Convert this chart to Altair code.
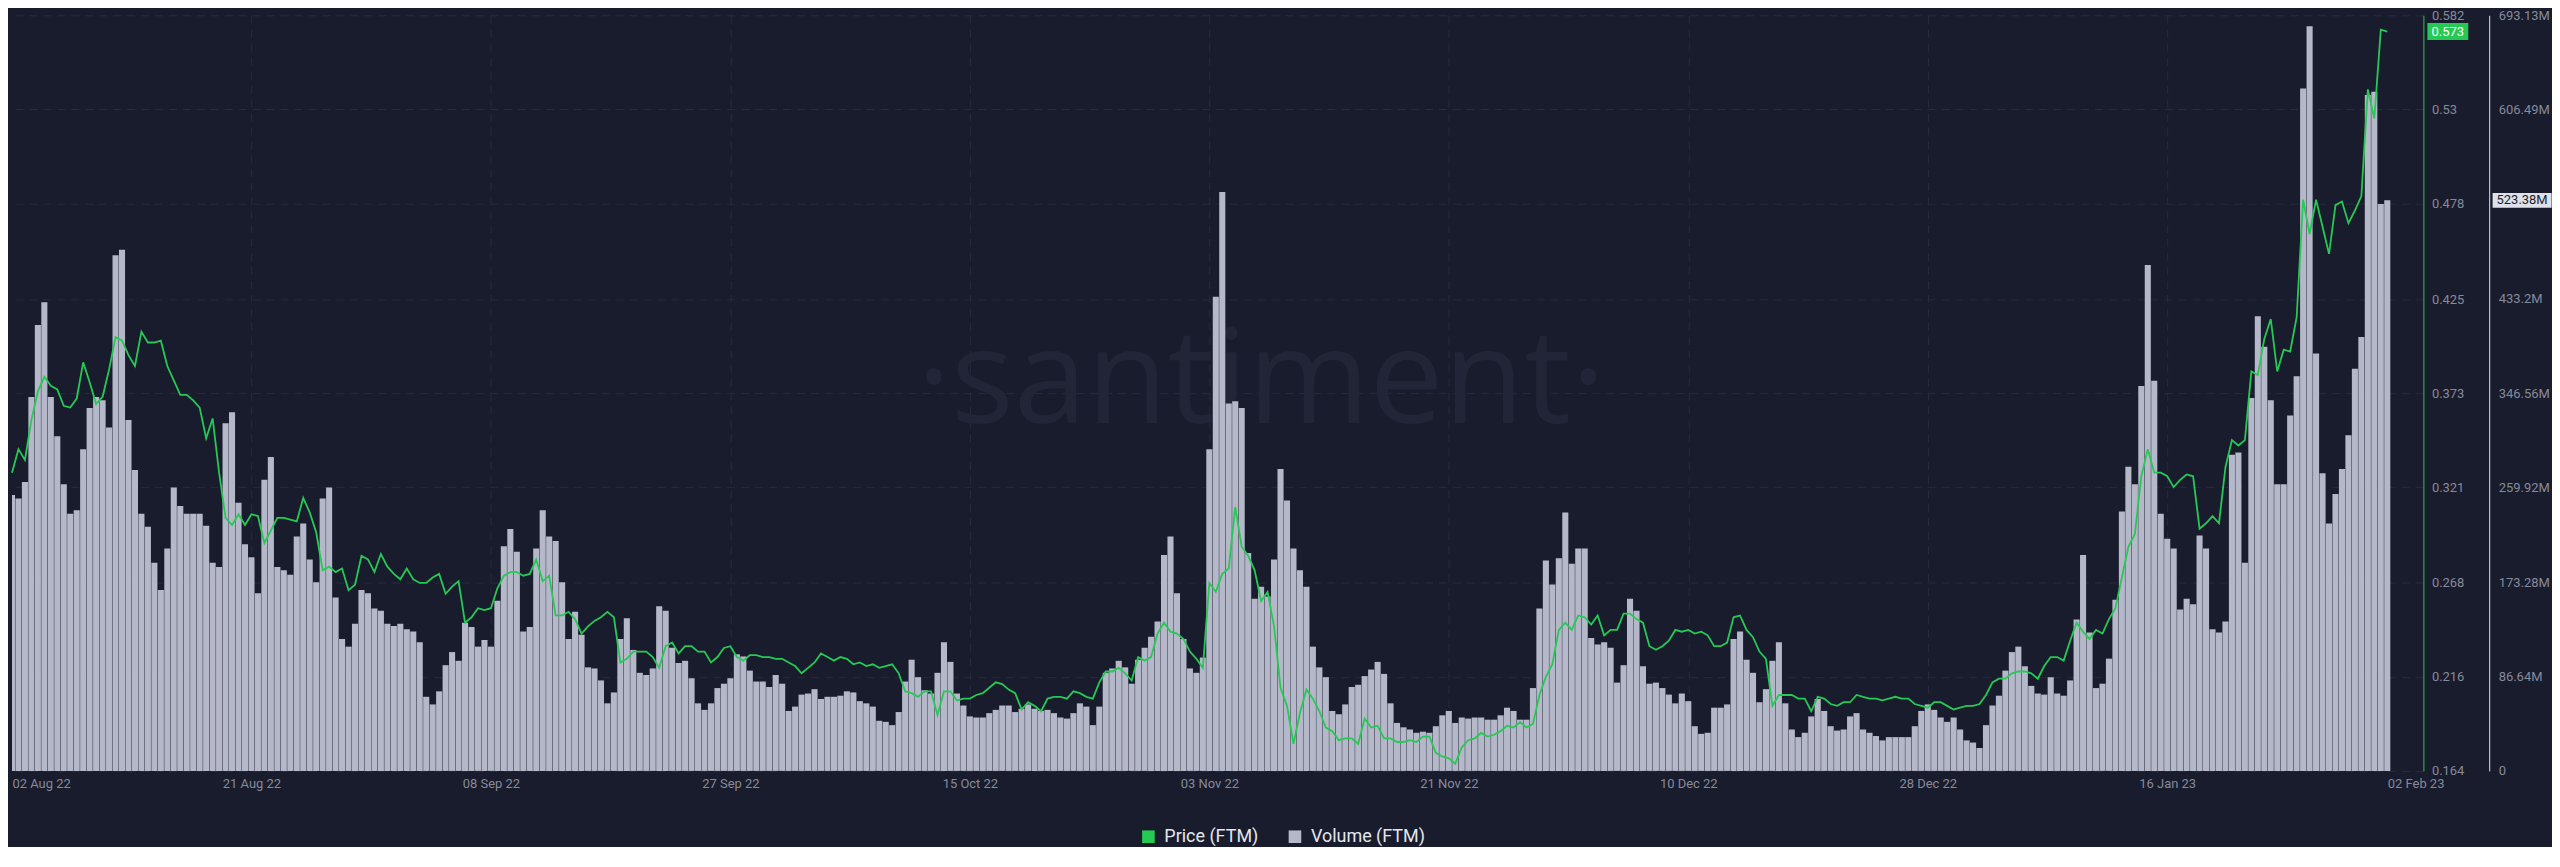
import altair as alt
import pandas as pd

# ---------------- data (12-hour steps from 02 Aug 2022 12:00 UTC) ----------------
volume_m = [
    253, 250, 265, 343, 409, 430, 343, 307, 263, 236, 239, 295, 333, 343, 340, 315, 473, 478, 322, 276,
    236, 224, 191, 166, 204, 260, 243, 236, 236, 236, 225, 191, 187, 319, 329, 246, 208, 196, 163, 267,
    288, 187, 184, 180, 215, 227, 194, 173, 250, 260, 159, 121, 114, 135, 166, 163, 149, 147, 135, 133,
    135, 130,
    128, 118, 68, 61, 73, 97, 109, 101, 136, 132, 114, 120, 114, 156, 206, 222, 201, 128, 132, 204,
    239, 215, 211, 173, 121, 146, 125, 95, 94, 83, 62, 72, 121, 140, 111, 90, 88, 94, 151, 147,
    113, 99, 101, 85, 62, 56, 62, 76, 80, 85, 107, 105, 92, 82, 82, 77, 88, 80, 55, 59, 70,
    71, 75, 66, 68, 68, 69, 73, 72, 64, 62, 59, 46, 45, 42, 54, 82, 102, 86, 74, 71,
    90, 118, 100, 71, 60, 50, 49, 49, 53, 56, 60, 60, 54, 57, 61, 57, 55, 56, 53, 49,
    48, 53, 62, 59, 42, 59, 90, 94, 101, 95, 80, 102, 113, 123, 137, 198, 215, 163, 121, 94, 90, 104,
    295, 435, 531, 337, 339, 333, 200, 158, 169, 160, 194, 277, 248, 204, 184, 169, 114, 95, 86, 55,
    52, 61, 77, 79, 87, 93, 100, 89, 62, 44, 40, 38, 35, 36, 35, 41, 51, 55, 44, 49,
    48, 49, 49, 47, 47, 51, 58, 55, 47, 47, 76, 149, 193, 171, 195, 237, 190, 204, 204, 122, 116,
    118, 113, 81, 97, 158, 147, 96, 80, 81, 76, 70, 62, 71, 64, 41, 34, 35, 58, 58, 61,
    121, 128, 102, 90, 63, 75, 101, 118, 62, 38, 31, 35, 50, 66, 55, 41, 37, 38, 50, 53,
    38, 35, 32, 28, 31, 31, 31, 31, 41, 55, 61, 56, 49, 45, 49, 38, 28, 26, 21, 42, 60,
    69, 92, 109, 114, 96, 78, 71, 70, 86, 71, 69, 83, 139, 198, 127, 76, 80, 103, 157, 238,
    279, 263, 353, 464, 358, 236, 213, 204, 148, 158, 153, 216, 204, 130, 127, 137, 290, 292, 191, 342,
    417, 389, 340, 263, 263, 326, 362, 626, 683, 383, 273, 227, 254, 277, 308, 369, 398, 620, 623, 520,
    523.38,
]

price = [
    0.329, 0.342, 0.336, 0.358, 0.374, 0.382, 0.377, 0.375, 0.366, 0.365, 0.370, 0.390, 0.379, 0.367,
    0.371, 0.386, 0.404, 0.402, 0.394, 0.388, 0.407, 0.401, 0.401, 0.402, 0.388, 0.380, 0.372, 0.372,
    0.369, 0.365, 0.348, 0.359, 0.329, 0.304, 0.300, 0.306, 0.300, 0.306, 0.305, 0.290, 0.297, 0.304,
    0.304, 0.303, 0.302, 0.315, 0.307, 0.296, 0.275, 0.277, 0.274, 0.276, 0.264, 0.267, 0.283, 0.281,
    0.274, 0.284, 0.277, 0.273, 0.270, 0.276,
    0.270, 0.268, 0.268, 0.271, 0.273, 0.262, 0.266, 0.269, 0.246, 0.249, 0.254, 0.253, 0.254, 0.265,
    0.272, 0.274, 0.274, 0.272, 0.273, 0.281, 0.269, 0.272, 0.250, 0.250, 0.252, 0.248, 0.240, 0.244,
    0.247, 0.249, 0.252, 0.249, 0.224, 0.226, 0.230, 0.230, 0.230, 0.227, 0.221, 0.233, 0.235, 0.229,
    0.233, 0.233, 0.230, 0.230, 0.224, 0.227, 0.232, 0.233, 0.227, 0.225, 0.228, 0.228, 0.227, 0.227,
    0.226, 0.226, 0.224, 0.222, 0.218,
    0.221, 0.224, 0.229, 0.227, 0.225, 0.227, 0.226, 0.223, 0.224, 0.222, 0.223, 0.221, 0.222, 0.223,
    0.218, 0.208, 0.207, 0.205, 0.208, 0.208, 0.195, 0.208, 0.208, 0.203, 0.204, 0.204, 0.206, 0.207,
    0.210, 0.213, 0.212, 0.209, 0.207, 0.198, 0.202, 0.200, 0.197, 0.204, 0.205, 0.205, 0.204, 0.208,
    0.207, 0.205, 0.204, 0.213, 0.219, 0.219, 0.221, 0.218, 0.214, 0.227, 0.225, 0.227, 0.240, 0.246,
    0.241, 0.240, 0.237, 0.230, 0.226, 0.221,
    0.268, 0.263, 0.273, 0.276, 0.310, 0.288, 0.283, 0.275, 0.258, 0.263, 0.244, 0.210, 0.200, 0.179,
    0.196, 0.209, 0.204, 0.197, 0.188, 0.186, 0.181, 0.182, 0.182, 0.179, 0.193, 0.188, 0.189, 0.182,
    0.182, 0.180, 0.180, 0.181, 0.180, 0.183, 0.183, 0.174, 0.172, 0.171, 0.168, 0.177, 0.181, 0.182,
    0.185, 0.183, 0.184, 0.186, 0.189, 0.188, 0.191, 0.188, 0.190, 0.206, 0.216, 0.223, 0.242, 0.246,
    0.242, 0.250, 0.249, 0.245, 0.250,
    0.239, 0.242, 0.242, 0.251, 0.251, 0.248, 0.246, 0.233, 0.231, 0.233, 0.236, 0.242, 0.241, 0.242,
    0.240, 0.241, 0.239, 0.233, 0.233, 0.235, 0.249, 0.250, 0.242, 0.238, 0.230, 0.226, 0.200, 0.206,
    0.206, 0.206, 0.204, 0.204, 0.197, 0.205, 0.204, 0.201, 0.200, 0.202, 0.202, 0.206, 0.205, 0.204,
    0.204, 0.203, 0.204, 0.205, 0.204, 0.204, 0.201, 0.200, 0.199, 0.202, 0.202, 0.200, 0.198, 0.199,
    0.200, 0.200, 0.201, 0.206, 0.213,
    0.215, 0.215, 0.218, 0.219, 0.219, 0.218, 0.215, 0.222, 0.227, 0.227, 0.225, 0.236, 0.246, 0.241,
    0.237, 0.242, 0.240, 0.248, 0.254, 0.271, 0.288, 0.295, 0.327, 0.342, 0.329, 0.329, 0.327, 0.321,
    0.325, 0.328, 0.327, 0.298, 0.301, 0.305, 0.301, 0.332, 0.347, 0.344, 0.347, 0.385, 0.383, 0.403,
    0.414, 0.385, 0.397, 0.396, 0.415, 0.480, 0.461, 0.480, 0.465, 0.450, 0.477, 0.479, 0.467, 0.474,
    0.482, 0.541, 0.525, 0.574, 0.573,
]

series_names = ["Price (FTM)", "Volume (FTM)"]
tick_dates = [
    "2022-08-02T12:00:00Z", "2022-08-21T00:00:00Z", "2022-09-08T12:00:00Z", "2022-09-27T00:00:00Z",
    "2022-10-15T12:00:00Z", "2022-11-03T00:00:00Z", "2022-11-21T12:00:00Z", "2022-12-10T00:00:00Z",
    "2022-12-28T12:00:00Z", "2023-01-16T00:00:00Z", "2023-02-02T00:00:00Z",
]
x_domain_dates = ["2022-08-02T12:00:00Z", "2023-02-04T19:00:00Z"]
price_ticks = [0.164, 0.216, 0.268, 0.321, 0.373, 0.425, 0.478, 0.53, 0.582]
volume_ticks = [0, 86.64, 173.28, 259.92, 346.56, 433.2, 606.49, 693.13]
price_domain = [0.164, 0.582]
volume_domain = [0, 693.13]
watermark_text = "\u00b7santiment\u00b7"

# ---------------- styles ----------------
BG = "#191c2d"
GRID = "#272b3d"
LABEL = "#878a98"
GREEN = "#26c953"
BAR = "#b5b8c9"
FONT = "Roboto"
W, H = 2419, 758


def ms(s):
    return int(pd.Timestamp(s).value // 10**6)


tick_ms = [ms(d) for d in tick_dates]
x_domain = [ms(d) for d in x_domain_dates]

n = len(volume_m)
times = pd.date_range("2022-08-02 12:00", periods=n, freq="12h")
df = pd.DataFrame({
    "t": [ts.strftime("%Y-%m-%dT%H:%M:%SZ") for ts in times],
    "volume": volume_m,
    "price": price,
    "series": series_names[1],
})
last = pd.DataFrame({
    "price": [price[-1]],
    "volume": [volume_m[-1]],
    "ptxt": [f"{price[-1]:.3f}"],
    "vtxt": [f"{volume_m[-1]:.2f}M"],
})

edge_test = f"datum.value <= {tick_ms[0]} || datum.value >= {tick_ms[-1]}"
x_axis = alt.Axis(
    values=tick_ms,
    labelExpr="utcFormat(datum.value, '%d %b %y')",
    labelFlush=False,
    labelOverlap=False,
    labelAlign={"condition": {"test": edge_test, "value": "left"}, "value": "center"},
    gridColor={"condition": {"test": edge_test, "value": "rgba(0,0,0,0)"}, "value": GRID},
    grid=True,
    gridDash=[8, 6],
    ticks=False,
    domain=False,
    labelColor=LABEL,
    labelFont=FONT,
    labelFontSize=13,
    labelPadding=7,
    title=None,
)
x_enc = alt.X("t:T", scale=alt.Scale(type="utc", domain=x_domain, nice=False, padding=0), axis=x_axis)

price_axis = alt.Axis(
    orient="right", values=price_ticks, format=".3~f", offset=0,
    domainColor=GREEN, domainWidth=1, ticks=False, tickSize=0,
    labelPadding=8, labelColor=LABEL, labelFont=FONT, labelFontSize=13,
    labelFlush=False, labelOverlap=False,
    grid=True, gridColor=GRID, gridDash=[8, 6], title=None,
)
vol_axis = alt.Axis(
    orient="right", values=volume_ticks, offset=66,
    labelExpr="datum.value == 0 ? '0' : format(datum.value, '.2~f') + 'M'",
    domainColor="#dfe1ea", domainWidth=1, ticks=False, tickSize=0,
    labelPadding=9, labelColor=LABEL, labelFont=FONT, labelFontSize=13,
    labelFlush=False, labelOverlap=False, grid=False, title=None,
)
price_scale = alt.Scale(domain=price_domain, nice=False, zero=False)
vol_scale = alt.Scale(domain=volume_domain, nice=False, zero=True)
y_price = alt.Y("price:Q", scale=price_scale, axis=price_axis)
y_vol = alt.Y("volume:Q", scale=vol_scale, axis=vol_axis, stack=None)

legend = alt.Legend(
    orient="none", legendX=1131, legendY=815, direction="horizontal", title=None,
    symbolType="square", symbolSize=160, symbolStrokeWidth=0,
    labelFont=FONT, labelFontSize=18, labelColor="#e4e6ee", labelOffset=7,
    columnPadding=27, padding=0,
)

watermark = alt.Chart(pd.DataFrame({"w": [watermark_text]})).mark_text(
    font="Open Sans", fontSize=132, fontWeight=400, color="#212537",
    align="center", baseline="alphabetic",
).encode(text="w:N", x=alt.value(1253), y=alt.value(409))

bars = alt.Chart(df).mark_bar(size=6.1, clip=True).encode(
    x=x_enc,
    y=y_vol,
    color=alt.Color("series:N", scale=alt.Scale(domain=series_names, range=[GREEN, BAR]), legend=legend),
)

RECT_P = "M-1,-0.4146L1,-0.4146L1,0.4146L-1,0.4146Z"
RECT_V = "M-1,-0.25L1,-0.25L1,0.25L-1,0.25Z"

vol_tag_box = alt.Chart(last).mark_point(
    shape=RECT_V, size=3500, filled=True, opacity=1, color="#dfe1ea", strokeWidth=0
).encode(x=alt.value(2518), y=y_vol)
vol_tag_txt = alt.Chart(last).mark_text(
    color="#1b1e2e", font=FONT, fontSize=13, align="center", baseline="middle"
).encode(x=alt.value(2518), y=y_vol, text="vtxt:N")

line = alt.Chart(df).mark_line(color=GREEN, strokeWidth=1.8).encode(x=x_enc, y=y_price)
price_tag_box = alt.Chart(last).mark_point(
    shape=RECT_P, size=1681, filled=True, opacity=1, color=GREEN, strokeWidth=0
).encode(x=alt.value(2443.5), y=y_price)
price_tag_txt = alt.Chart(last).mark_text(
    color="#ffffff", font=FONT, fontSize=13, align="center", baseline="middle"
).encode(x=alt.value(2443.5), y=y_price, text="ptxt:N")

vol_layer = alt.layer(bars, vol_tag_box, vol_tag_txt)
price_layer = alt.layer(line, price_tag_box, price_tag_txt)

chart = (
    alt.layer(watermark, vol_layer, price_layer)
    .resolve_scale(y="independent")
    .properties(width=W, height=H, padding=0)
    .configure(background=BG)
    .configure_view(stroke=None)
)

chart.save("out.html", embed_options={"renderer": "svg", "actions": False})
